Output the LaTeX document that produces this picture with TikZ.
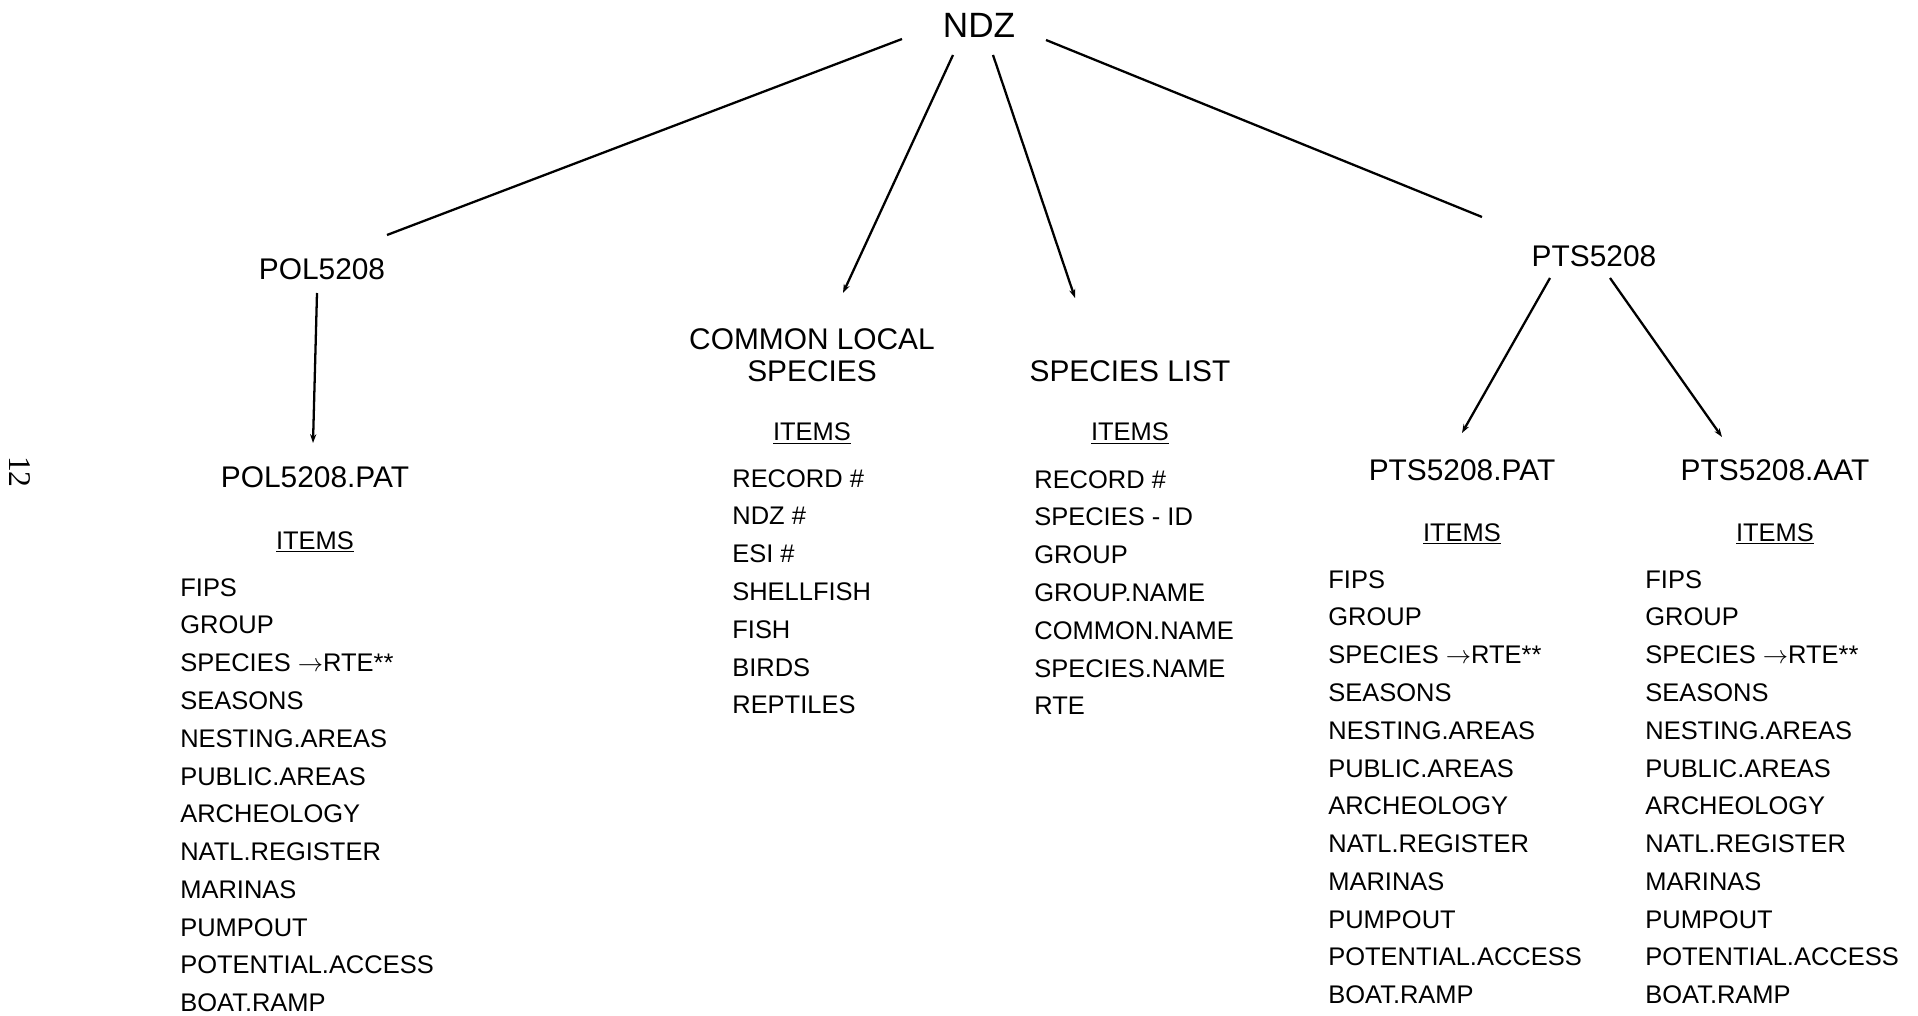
\documentclass[tikz,border=0pt]{standalone}
\usepackage{fontspec}
\setmainfont{Liberation Sans}
\newfontfamily\pagefont{Liberation Serif}
\usetikzlibrary{positioning,arrows.meta}

\newcommand{\covitems}{FIPS\\GROUP\\SPECIES $\rightarrow$RTE**\\SEASONS\\NESTING.AREAS\\PUBLIC.AREAS\\ARCHEOLOGY\\NATL.REGISTER\\MARINAS\\PUMPOUT\\POTENTIAL.ACCESS\\BOAT.RAMP}

\begin{document}
\begin{tikzpicture}[x=0.02cm, y=-0.02cm,
        rootname/.style={inner sep=0pt, font=\fontsize{20}{24}\selectfont},
        coverage/.style={inner sep=0pt, align=center, font=\fontsize{17}{18.1}\selectfont},
        itemhead/.style={inner sep=0pt, font=\fontsize{14.5}{21.5}\selectfont},
        itemlist/.style={inner sep=0pt, anchor=north west, align=left, font=\fontsize{14.5}{21.5}\selectfont},
        link/.style={line width=1.3pt},
        >={Stealth[length=5pt,width=3.5pt]}
    ]
    \useasboundingbox (0,0) rectangle (1918,1016);

    % Root
    \node[rootname] (ndz) at (979,25) {NDZ};

    % Coverages and tables
    \node[coverage] (pol) at (322,269) {POL5208};
    \node[coverage] (polpat) at (315,477) {POL5208.PAT};
    \node[coverage] (cls) at (812,355) {COMMON LOCAL\\SPECIES};
    \node[coverage] (spl) at (1130,371) {SPECIES LIST};
    \node[coverage] (pts) at (1594,256) {PTS5208};
    \node[coverage] (ptspat) at (1462,470) {PTS5208.PAT};
    \node[coverage] (ptsaat) at (1775,470) {PTS5208.AAT};

    % Item headers
    \node[itemhead, below=0.86cm of polpat] (politems) {\underline{ITEMS}};
    \node[itemhead, below=0.81cm of cls] (clsitems) {\underline{ITEMS}};
    \node[itemhead, below=0.81cm of spl] (splitems) {\underline{ITEMS}};
    \node[itemhead, below=0.84cm of ptspat] (patitems) {\underline{ITEMS}};
    \node[itemhead, below=0.84cm of ptsaat] (aatitems) {\underline{ITEMS}};

    % Item lists
    \node[itemlist] (pollist) at (180,578) {\covitems};
    \node[itemlist] (clslist) at (732,469) {RECORD \#\\NDZ \#\\ESI \#\\SHELLFISH\\FISH\\BIRDS\\REPTILES};
    \node[itemlist] (spllist) at (1034,470) {RECORD \#\\SPECIES - ID\\GROUP\\GROUP.NAME\\COMMON.NAME\\SPECIES.NAME\\RTE};
    \node[itemlist] (patlist) at (1328,570) {\covitems};
    \node[itemlist] (aatlist) at (1645,570) {\covitems};

    % Page number
    \node[rotate=-90, inner sep=0pt, font=\pagefont\fontsize{18}{20}\selectfont] (page) at (20,472) {12};

    % Connectors
    \draw[link] ([shift={(-77,14)}]ndz.center) -- ([shift={(65,-34)}]pol.center);
    \draw[link,->] ([shift={(-26,30)}]ndz.center) -- ([shift={(31,-62)}]cls.center);
    \draw[link,->] ([shift={(14,30)}]ndz.center) -- ([shift={(-55,-73)}]spl.center);
    \draw[link] ([shift={(67,15)}]ndz.center) -- ([shift={(-112,-39)}]pts.center);
    \draw[link,->] ([shift={(-5,24)}]pol.center) -- ([shift={(-2,-34)}]polpat.center);
    \draw[link,->] ([shift={(-44,22)}]pts.center) -- ([shift={(0,-37)}]ptspat.center);
    \draw[link,->] ([shift={(16,22)}]pts.center) -- ([shift={(-53,-33)}]ptsaat.center);

\end{tikzpicture}
\end{document}
